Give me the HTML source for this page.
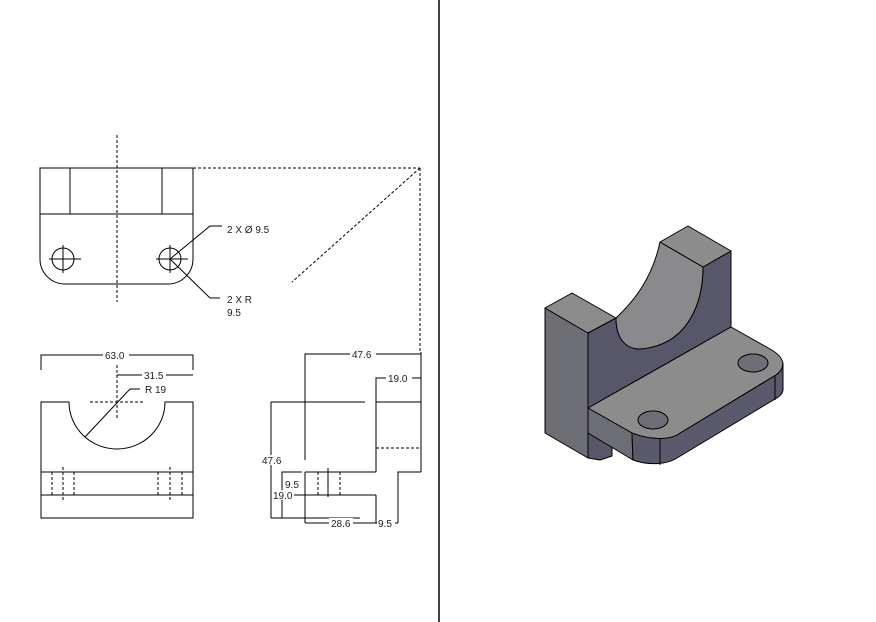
<!DOCTYPE html>
<html><head><style>body{margin:0;background:#fff}svg{display:block}text{font-family:"Liberation Sans",sans-serif;font-size:10px;fill:#222}</style></head><body>
<svg width="876" height="622" viewBox="0 0 876 622" xmlns="http://www.w3.org/2000/svg">
<line x1="439" y1="0" x2="439" y2="622" stroke="#000" stroke-width="1.5"/>
<g stroke="#000" stroke-width="1" fill="none">
<path d="M40 168H193V259A25 25 0 0 1 168 284H65A25 25 0 0 1 40 259Z"/>
<line x1="40" y1="214" x2="193" y2="214"/>
<line x1="70" y1="168" x2="70" y2="214"/>
<line x1="162" y1="168" x2="162" y2="214"/>
<circle cx="63" cy="259" r="11"/><circle cx="170" cy="259" r="11"/>
<line x1="49" y1="259" x2="81" y2="259"/><line x1="63" y1="245" x2="63" y2="273"/>
<line x1="156" y1="259" x2="188" y2="259"/><line x1="170" y1="245" x2="170" y2="273"/>
<polyline points="170,259 210,226 222,226"/>
<polyline points="170,259 210,298 220,298"/>
<g stroke-dasharray="3,2">
<line x1="117" y1="135" x2="117" y2="302"/>
<line x1="193" y1="168" x2="420" y2="168"/>
<line x1="420" y1="168" x2="420" y2="352"/>
<line x1="420" y1="168" x2="292" y2="282"/>
</g>
<polyline points="41,370 41,355 193,355 193,370"/>
<polyline points="117,375 193,375"/>
<path d="M41 402H69A48 47 0 0 0 165 402H193V518H41Z"/>
<line x1="41" y1="472" x2="193" y2="472"/>
<line x1="41" y1="495" x2="193" y2="495"/>
<polyline points="85,437 130,389 140,389"/>
<g stroke-dasharray="3,2">
<line x1="117" y1="365" x2="117" y2="420"/>
<line x1="90" y1="402" x2="143" y2="402"/>
<line x1="52" y1="472" x2="52" y2="495"/><line x1="74" y1="472" x2="74" y2="495"/>
<line x1="63" y1="467" x2="63" y2="500"/>
<line x1="158" y1="472" x2="158" y2="495"/><line x1="182" y1="472" x2="182" y2="495"/>
<line x1="170" y1="467" x2="170" y2="500"/>
<line x1="376" y1="448" x2="421" y2="448"/>
<line x1="318" y1="472" x2="318" y2="495"/><line x1="340" y1="472" x2="340" y2="495"/>
</g>
<line x1="421" y1="352" x2="421" y2="472"/>
<polyline points="305,460 305,354 421,354"/>
<polyline points="376,472 376,378 421,378"/>
<line x1="271" y1="402" x2="365" y2="402"/>
<line x1="376" y1="402" x2="421" y2="402"/>
<line x1="305" y1="472" x2="376" y2="472"/>
<polyline points="421,472 398,472 398,518"/>
<line x1="271" y1="402" x2="271" y2="518"/>
<line x1="271" y1="518" x2="360" y2="518"/>
<line x1="305" y1="472" x2="305" y2="523"/>
<line x1="305" y1="523" x2="398" y2="523"/>
<line x1="376" y1="495" x2="376" y2="523"/>
<line x1="398" y1="518" x2="398" y2="523"/>
<line x1="291" y1="495" x2="376" y2="495"/>
<polyline points="302,472 282,472 282,518"/>
<line x1="328" y1="468" x2="328" y2="497"/>
</g>
<rect x="103" y="350" width="26" height="10" fill="#fff"/><text x="105" y="359">63.0</text>
<rect x="142" y="370" width="24" height="10" fill="#fff"/><text x="144" y="379">31.5</text>
<text x="145" y="393">R 19</text>
<text x="227" y="233">2 X Ø 9.5</text>
<text x="227" y="303">2 X R</text>
<text x="227" y="316">9.5</text>
<rect x="350" y="349" width="26" height="10" fill="#fff"/><text x="352" y="358">47.6</text>
<rect x="386" y="373" width="26" height="10" fill="#fff"/><text x="388" y="382">19.0</text>
<rect x="260" y="455" width="24" height="10" fill="#fff"/><text x="262" y="464">47.6</text>
<text x="285" y="488">9.5</text>
<rect x="272" y="490" width="22" height="10" fill="#fff"/><text x="273" y="499">19.0</text>
<rect x="329" y="518" width="24" height="10" fill="#fff"/><text x="331" y="527">28.6</text>
<rect x="377" y="518" width="18" height="10" fill="#fff"/><text x="378" y="527">9.5</text>
<g stroke="#000" stroke-width="1" stroke-linejoin="round">
<path d="M588,333 L616,318 C616,338 625,349 640,349 C690,345 703,300 703,267 L731,251 L731,327 L588,408 L588,458 Z" fill="#575769"/>
<path d="M660,242 L703,267 C703,300 690,345 640,349 C625,349 616,338 616,318 C632,303 652,280 660,242 Z" fill="#8a8a8c"/>
<polygon points="545,308 588,333 588,458 545,433" fill="#6d6d74"/>
<polygon points="545,308 572,293 616,318 588,333" fill="#8c8c8c"/>
<polygon points="660,242 688,226 731,251 703,267" fill="#8c8c8c"/>
<polygon points="588,433 612,447 612,456 600,460 588,458" fill="#575769"/>
<path d="M588,408 L731,327 L770,349 C786,358 786,368 776,375 L677,435 C668,440 650,440 632,433 Z" fill="#8c8c8c"/>
<path d="M588,408 L632,433 L633,460 L588,433 Z" fill="#6d6d74"/>
<path d="M632,433 C650,440 668,440 677,435 L776,375 C782,371 783,366 783,363 L783,390 C782,395 779,397 770,402 L677,458 C668,464 650,466 633,460 Z" fill="#5a5a6c"/>
<line x1="660" y1="438" x2="660" y2="465"/>
<line x1="775" y1="376" x2="775" y2="400"/>
<ellipse cx="653" cy="420" rx="15" ry="9" fill="#6e6e78"/>
<ellipse cx="753" cy="363" rx="15" ry="9" fill="#6e6e78"/>
</g>
</svg>
</body></html>
